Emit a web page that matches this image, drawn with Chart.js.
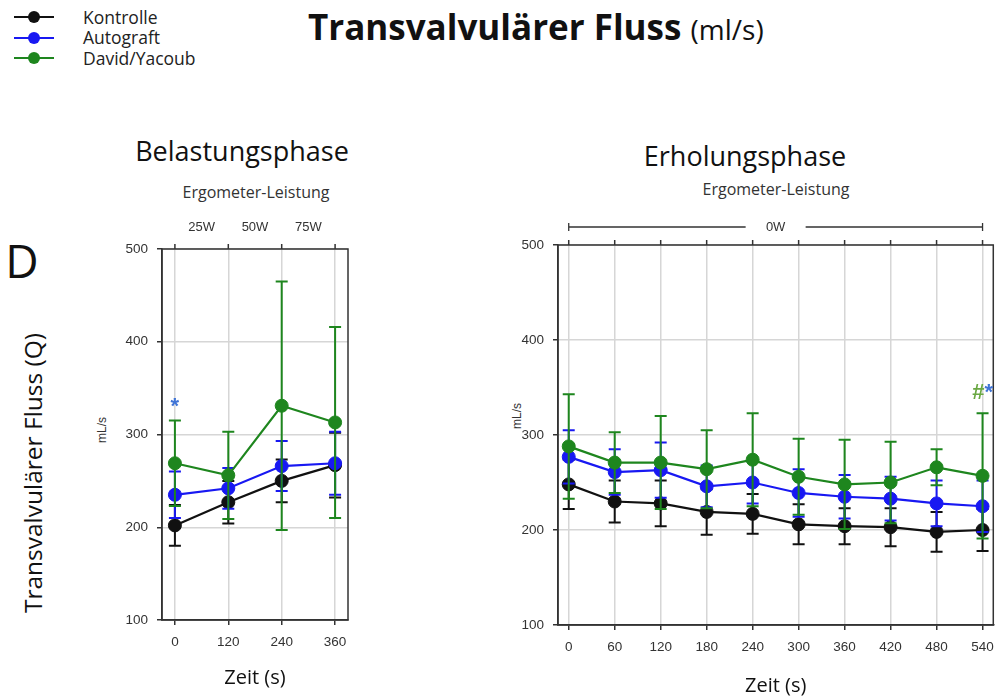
<!DOCTYPE html>
<html lang="de">
<head>
<meta charset="utf-8">
<title>Transvalvulärer Fluss</title>
<script src="https://cdn.jsdelivr.net/npm/chart.js@4.4.1/dist/chart.umd.min.js"></script>
<style>
  html, body { margin: 0; padding: 0; background: #fff; }
  body { width: 1003px; height: 698px; position: relative; overflow: hidden; font-family: 'Open Sans', sans-serif; color: #111; }
  .abs { position: absolute; white-space: nowrap; line-height: 1.2; }
  .c { transform: translate(-50%, -50%); }
  .rot { transform: translate(-50%, -50%) rotate(-90deg); }
  .legend { left: 14px; top: 7px; font-size: 17.5px; color: #222; }
  .legend .row { display: flex; align-items: center; height: 20.5px; }
  .legend .sw { position: relative; width: 40px; height: 2px; margin-right: 29px; }
  .legend .sw i { position: absolute; left: 14px; top: -5px; width: 12px; height: 12px; border-radius: 50%; background: inherit; }
  .title { left: 308px; top: 6px; font-size: 35px; font-weight: 700; }
  .title span { font-size: 28px; font-weight: 400; }
  .unit { font-family: 'Liberation Sans', Arial, sans-serif; font-size: 12px; color: #333; }
  canvas { position: absolute; }
</style>
</head>
<body>

<div class="abs legend" id="legend"></div>
<div class="abs title">Transvalvulärer Fluss <span>(ml/s)</span></div>

<div class="abs c" style="left:22px; top:261px; font-size:46px;">D</div>
<div class="abs rot" style="left:33px; top:473px; font-size:24.5px;">Transvalvulärer Fluss (Q)</div>

<div class="abs c" style="left:242px; top:151px; font-size:27px;">Belastungsphase</div>
<div class="abs c" style="left:256px; top:193px; font-size:16px; color:#333;">Ergometer-Leistung</div>
<div class="abs c" style="left:745px; top:156px; font-size:27px;">Erholungsphase</div>
<div class="abs c" style="left:776px; top:190px; font-size:16px; color:#333;">Ergometer-Leistung</div>

<div class="abs rot unit" style="left:102px; top:430px;">mL/s</div>
<div class="abs rot unit" style="left:517px; top:416px;">mL/s</div>

<canvas id="load" width="272" height="505" style="left:90px; top:190px;"></canvas>
<canvas id="recovery" width="523" height="503" style="left:480px; top:195px;"></canvas>

<script>
// Mittelwert ± SD des transvalvulären Flusses (mL/s)
const seriesNames = ['Kontrolle', 'Autograft', 'David/Yacoub'];
const seriesColors = ['#111111', '#1818f2', '#1e861e'];
const yTicks = [100, 200, 300, 400, 500];

// Belastungsphase
const loadTimes = [0, 120, 240, 360];
const loadKontrolle = [202, 227, 250, 267];
const loadKontrolleSd = [22, 23, 23, 35];
const loadAutograft = [235, 242, 266, 269];
const loadAutograftSd = [25, 22, 27, 34];
const loadDavid = [269, 256, 331, 313];
const loadDavidSd = [46, 47, 134, 103];
const loadWatts = ['25W', '50W', '75W'];
const loadWattsAt = [60, 180, 300];

// Erholungsphase
const recTimes = [0, 60, 120, 180, 240, 300, 360, 420, 480, 540];
const recKontrolle = [248, 230, 228, 219, 217, 206, 204, 203, 198, 200];
const recKontrolleSd = [26, 22, 24, 24, 21, 21, 19, 20, 21, 22];
const recAutograft = [277, 261, 263, 246, 250, 239, 235, 233, 228, 225];
const recAutograftSd = [28, 24, 29, 22, 22, 25, 23, 23, 24, 27];
const recDavid = [288, 271, 271, 264, 274, 256, 248, 250, 266, 257];
const recDavidSd = [55, 32, 49, 41, 49, 40, 47, 43, 19, 66];

const INK = '#333';
const GRID = '#d6d6d6';
const STAR_BLUE = '#3f74d6';
const HASH_GREEN = '#6aa843';

Chart.defaults.font.family = "'Liberation Sans', Arial, sans-serif";
Chart.defaults.color = INK;

// Legende
document.getElementById('legend').innerHTML = seriesNames.map((n, i) =>
  `<div class="row"><span class="sw" style="background:${seriesColors[i]}"><i></i></span>${n}</div>`
).join('');

// Fehlerbalken je Datensatz, direkt unter der jeweiligen Linie
const errorBars = {
  id: 'errorBars',
  beforeDatasetDraw(chart, args) {
    const ds = chart.data.datasets[args.index];
    const y = chart.scales.y;
    const ctx = chart.ctx;
    ctx.save();
    ctx.strokeStyle = ds.borderColor;
    ctx.lineWidth = 2;
    args.meta.data.forEach((pt, i) => {
      const v = ds.data[i].y, e = ds.errors[i];
      const top = y.getPixelForValue(v + e), bot = y.getPixelForValue(v - e);
      ctx.beginPath();
      ctx.moveTo(pt.x, top); ctx.lineTo(pt.x, bot);
      ctx.moveTo(pt.x - 6, top); ctx.lineTo(pt.x + 6, top);
      ctx.moveTo(pt.x - 6, bot); ctx.lineTo(pt.x + 6, bot);
      ctx.stroke();
    });
    ctx.restore();
  }
};

// Rahmen, obere Ticks, Leistungsangaben und Signifikanzzeichen
const decor = {
  id: 'decor',
  beforeDatasetsDraw(chart) {
    const { ctx, chartArea: a, scales: { x } } = chart;
    ctx.save();
    ctx.strokeStyle = INK;
    ctx.lineWidth = 1.5;
    ctx.strokeRect(a.left, a.top, a.right - a.left, a.bottom - a.top);
    ctx.beginPath();
    x.ticks.forEach(t => {
      const px = x.getPixelForValue(t.value);
      ctx.moveTo(px, a.top); ctx.lineTo(px, a.top - 5);
    });
    ctx.stroke();
    ctx.restore();
  },
  afterDatasetsDraw(chart, args, opts) {
    const { ctx, chartArea: a, scales: { x, y } } = chart;
    ctx.save();
    ctx.fillStyle = INK;
    ctx.font = "13px 'Liberation Sans', Arial, sans-serif";
    ctx.textAlign = 'center';
    ctx.textBaseline = 'middle';
    (opts.watts || []).forEach(w => ctx.fillText(w.text, x.getPixelForValue(w.at), a.top - 22));
    if (opts.bracket) {
      const b = opts.bracket;
      const x0 = x.getPixelForValue(b.from), x1 = x.getPixelForValue(b.to);
      const xm = x.getPixelForValue((b.from + b.to) / 2);
      const yy = a.top - 18;
      ctx.strokeStyle = INK;
      ctx.lineWidth = 1.3;
      ctx.beginPath();
      ctx.moveTo(x0, yy); ctx.lineTo(xm - 30, yy);
      ctx.moveTo(xm + 30, yy); ctx.lineTo(x1, yy);
      ctx.moveTo(x0, yy - 4); ctx.lineTo(x0, yy + 4);
      ctx.moveTo(x1, yy - 4); ctx.lineTo(x1, yy + 4);
      ctx.stroke();
      ctx.fillText(b.text, xm, yy);
    }
    (opts.marks || []).forEach(m => {
      ctx.font = m.font;
      ctx.fillStyle = m.color;
      ctx.textAlign = m.align;
      ctx.fillText(m.text, x.getPixelForValue(m.x) + m.dx, y.getPixelForValue(m.y) + m.dy);
    });
    ctx.restore();
  }
};

function panel(id, o) {
  const means = [o.kontrolle, o.autograft, o.david];
  const sds = [o.kontrolleSd, o.autograftSd, o.davidSd];
  return new Chart(document.getElementById(id), {
    type: 'line',
    data: {
      datasets: seriesNames.map((name, i) => ({
        label: name,
        data: o.times.map((t, k) => ({ x: t, y: means[i][k] })),
        errors: sds[i],
        borderColor: seriesColors[i],
        backgroundColor: seriesColors[i],
        borderWidth: 2.2,
        pointRadius: 6.5,
        pointBorderWidth: 1,
        tension: 0,
        order: 3 - i,
        clip: false,
      })),
    },
    options: {
      responsive: false,
      animation: false,
      events: [],
      layout: { padding: o.padding },
      plugins: {
        legend: { display: false },
        tooltip: { enabled: false },
        decor: o.decor,
      },
      scales: {
        x: {
          type: 'linear',
          min: o.xMin,
          max: o.xMax,
          afterBuildTicks: (s) => { s.ticks = o.times.map(v => ({ value: v })); },
          afterFit: (s) => { s.height = o.xAxisH; },
          grid: { color: GRID, lineWidth: 1.5, tickColor: INK, tickLength: 5 },
          border: { color: INK, width: 1.5 },
          ticks: { color: INK, font: { size: 13.5 }, padding: 9, maxRotation: 0, autoSkip: false },
          title: { display: true, text: 'Zeit (s)', color: '#111', font: { family: "'Open Sans', sans-serif", size: 20 }, padding: { top: 0, bottom: o.xTitlePad } },
        },
        y: {
          min: 100,
          max: 500,
          afterBuildTicks: (s) => { s.ticks = yTicks.map(v => ({ value: v })); },
          afterFit: (s) => { s.width = o.yAxisW; },
          grid: { color: GRID, lineWidth: 1.5, tickColor: INK, tickLength: 5 },
          border: { color: INK, width: 1.5 },
          ticks: { color: INK, font: { size: 13.5 }, padding: 9 },
        },
      },
    },
    plugins: [errorBars, decor],
  });
}

const markFont = "bold 22px 'Liberation Sans', Arial, sans-serif";

panel('load', {
  times: loadTimes,
  kontrolle: loadKontrolle, kontrolleSd: loadKontrolleSd,
  autograft: loadAutograft, autograftSd: loadAutograftSd,
  david: loadDavid, davidSd: loadDavidSd,
  xMin: -29, xMax: 389,
  padding: { left: 0, right: 14, top: 59, bottom: 0 },
  xAxisH: 75, yAxisW: 72, xTitlePad: 5,
  decor: {
    watts: loadWatts.map((t, i) => ({ text: t, at: loadWattsAt[i] })),
    marks: [{ text: '*', x: 0, y: 333, dx: 0, dy: 3, align: 'center', color: STAR_BLUE, font: markFont }],
  },
});

panel('recovery', {
  times: recTimes,
  kontrolle: recKontrolle, kontrolleSd: recKontrolleSd,
  autograft: recAutograft, autograftSd: recAutograftSd,
  david: recDavid, davidSd: recDavidSd,
  xMin: -14, xMax: 554,
  padding: { left: 0, right: 4, top: 50, bottom: 0 },
  xAxisH: 73, yAxisW: 78, xTitlePad: 0,
  decor: {
    bracket: { from: 0, to: 540, text: '0W' },
    marks: [
      { text: '#', x: 540, y: 345, dx: 2, dy: 1, align: 'right', color: HASH_GREEN, font: "bold 22px 'Liberation Sans', Arial, sans-serif" },
      { text: '*', x: 540, y: 345, dx: 2, dy: 1, align: 'left', color: STAR_BLUE, font: markFont },
    ],
  },
});
</script>
</body>
</html>
